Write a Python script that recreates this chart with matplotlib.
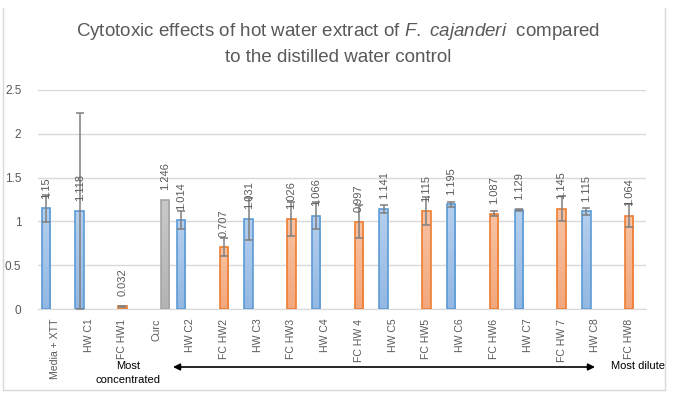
import numpy as np
import matplotlib
matplotlib.use("Agg")
import matplotlib.pyplot as plt
from matplotlib.lines import Line2D
from matplotlib.colors import LinearSegmentedColormap

# categories along the x axis
categories = ["Media + XTT", "HW C1", "FC HW1", "Curc", "HW C2", "FC HW2", "HW C3",
              "FC HW3", "HW C4", "FC HW 4", "HW C5", "FC HW5", "HW C6", "FC HW6",
              "HW C7", "FC HW 7", "HW C8", "FC HW8"]

# blue series (controls), index into categories
blue_idx = [0, 1, 4, 6, 8, 10, 12, 14, 16]
blue_vals = [1.15, 1.118, 1.014, 1.031, 1.066, 1.141, 1.195, 1.129, 1.115]
blue_err = [0.155, 1.118, 0.105, 0.24, 0.15, 0.045, 0.027, 0.011, 0.04]
blue_labels = ["1.15", "1.118", "1.014", "1.031", "1.066", "1.141", "1.195", "1.129", "1.115"]

# orange series (F. cajanderi hot water)
orange_idx = [2, 5, 7, 9, 11, 13, 15, 17]
orange_vals = [0.032, 0.707, 1.026, 0.997, 1.115, 1.087, 1.145, 1.064]
orange_err = [0.005, 0.1, 0.19, 0.19, 0.16, 0.03, 0.14, 0.13]
orange_labels = ["0.032", "0.707", "1.026", "0.997", "1.115", "1.087", "1.145", "1.064"]

# grey series (curcumin)
grey_idx = [3]
grey_vals = [1.246]
grey_labels = ["1.246"]

W, H = 686, 397
plt.rcParams["font.family"] = ["Liberation Sans", "DejaVu Sans"]
plt.rcParams["mathtext.fontset"] = "custom"
plt.rcParams["mathtext.it"] = "Liberation Sans:italic"
plt.rcParams["mathtext.rm"] = "Liberation Sans"
fig = plt.figure(figsize=(W / 100, H / 100), dpi=100)
txt = "#595959"

ax = fig.add_axes([38 / W, (H - 309) / H, (646 - 38) / W, (309 - 90) / H])

bw = 0.25
off = 0.265


def grad_bars(idx, vals, offset, edge, top_c, bot_c, err=None, labels=None):
    cmap = LinearSegmentedColormap.from_list("g", [bot_c, top_c])
    xs = np.array(idx) + offset
    bars = ax.bar(xs, vals, width=bw, facecolor="none", edgecolor=edge, linewidth=1.2, zorder=3)
    for b in bars:
        x0, y0 = b.get_x(), b.get_y()
        im = ax.imshow(np.linspace(0, 1, 50).reshape(-1, 1), cmap=cmap, aspect="auto",
                       origin="lower", extent=[x0, x0 + b.get_width(), y0, y0 + b.get_height()],
                       zorder=2)
        im.set_clip_path(b)
    if err is not None:
        ax.errorbar(xs, vals, yerr=err, fmt="none", ecolor="#7f7f7f", elinewidth=1.1,
                    capsize=3, capthick=1.1, zorder=4)
    for x, v, lab in zip(xs, vals, labels):
        ax.annotate(lab, (x, v), xytext=(0, 7), textcoords="offset points", rotation=90,
                    ha="center", va="bottom", fontsize=8, color=txt, zorder=5)


grad_bars(blue_idx, blue_vals, -off, "#5b9bd5", "#b5cfee", "#93b8e3", blue_err, blue_labels)
grad_bars(orange_idx, orange_vals, 0.0, "#ed7d31", "#f7c2a3", "#f3a77c", orange_err, orange_labels)
grad_bars(grey_idx, grey_vals, off, "#a5a5a5", "#c9c9c9", "#b3b3b3", None, grey_labels)

ax.set_xlim(-0.5, len(categories) - 0.5)
ax.set_ylim(0, 2.5)
ax.set_yticks([0, 0.5, 1, 1.5, 2, 2.5])
ax.set_yticklabels(["0", "0.5", "1", "1.5", "2", "2.5"])
ax.set_xticks(range(len(categories)))
ax.set_xticklabels(categories, rotation=90, va="top")
ax.tick_params(axis="y", length=0, labelsize=8.5, colors=txt, pad=12)
ax.tick_params(axis="x", length=0, labelsize=7.6, colors=txt, pad=7)
ax.grid(axis="y", color="#d9d9d9", linewidth=1, zorder=0)
ax.set_axisbelow(True)
for s in ["left", "right", "top"]:
    ax.spines[s].set_visible(False)
ax.spines["bottom"].set_color("#d9d9d9")
ax.spines["bottom"].set_zorder(1)

# title
fig.text(338 / W, 1 - 32 / H, "Cytotoxic effects of hot water extract of $F.$ $cajanderi$  compared",
         ha="center", va="center", fontsize=13.5, color=txt)
fig.text(338 / W, 1 - 57 / H, "to the distilled water control",
         ha="center", va="center", fontsize=13.5, color=txt)

# dilution annotation
fig.text(128 / W, 1 - 366 / H, "Most", ha="center", va="center", fontsize=8, color="black")
fig.text(128 / W, 1 - 380 / H, "concentrated", ha="center", va="center", fontsize=8, color="black")
fig.text(638 / W, 1 - 366 / H, "Most dilute", ha="center", va="center", fontsize=8, color="black")
fig.add_artist(plt.Annotation("", xy=(595 / W, 1 - 367 / H), xytext=(173 / W, 1 - 367 / H),
                              xycoords="figure fraction", textcoords="figure fraction",
                              arrowprops=dict(arrowstyle="<|-|>", color="black", lw=1.2,
                                              mutation_scale=10, shrinkA=0, shrinkB=0)))

# chart frame
fc = "#d9d9d9"
fig.add_artist(Line2D([3 / W, 3 / W], [1 - 8 / H, 1 - 390 / H], color=fc, lw=1))
fig.add_artist(Line2D([665 / W, 665 / W], [1 - 8 / H, 1 - 390 / H], color=fc, lw=1))
fig.add_artist(Line2D([3 / W, 665 / W], [1 - 390 / H, 1 - 390 / H], color=fc, lw=1))

fig.savefig("out.png", dpi=100)
